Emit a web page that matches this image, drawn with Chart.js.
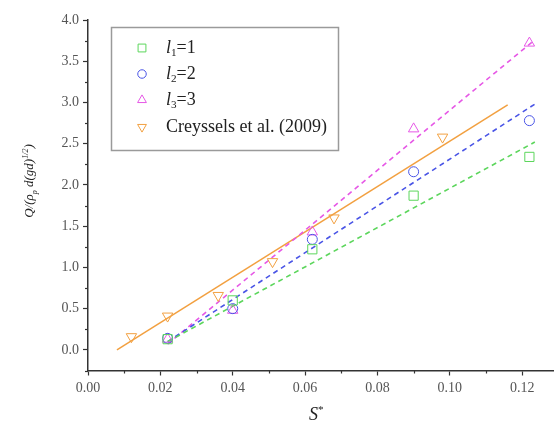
<!DOCTYPE html>
<html>
<head>
<meta charset="utf-8">
<script src="https://cdn.jsdelivr.net/npm/chart.js@4.4.1/dist/chart.umd.min.js"></script>
<style>
  html, body { margin: 0; padding: 0; background: #fff; overflow: hidden; }
  #wrap { width: 554px; height: 426px; }
  canvas { display: block; }
</style>
</head>
<body>
<div id="wrap"><canvas id="fluxChart"></canvas></div>
<script>
// Measured points, dimensionless flux vs S*
const sizeX = [0.022, 0.040, 0.062, 0.090, 0.122];
const l1Y = [0.13, 0.60, 1.22, 1.87, 2.34];
const l2Y = [0.14, 0.50, 1.34, 2.16, 2.78];
const l3Y = [0.13, 0.48, 1.43, 2.68, 3.72];
const creyX = [0.012, 0.022, 0.036, 0.051, 0.068, 0.098];
const creyY = [0.16, 0.41, 0.66, 1.07, 1.60, 2.58];

// Linear fits (end points)
const fitX = [0.022, 0.1235];
const fit1Y = [0.10, 2.52];
const fit2Y = [0.10, 2.98];
const fit3Y = [0.07, 3.76];
const creyFitX = [0.008, 0.116];
const creyFitY = [0.00, 2.97];

const xTicks = [0, 0.02, 0.04, 0.06, 0.08, 0.10, 0.12];
const yTicks = [0, 0.5, 1.0, 1.5, 2.0, 2.5, 3.0, 3.5, 4.0];

const GREEN = '#5cd65c';
const BLUE = '#4a55e6';
const MAGENTA = '#e658e6';
const ORANGE = '#f2a040';
const AXIS = '#333333';
const SERIF = '"Liberation Serif", "DejaVu Serif", serif';

const pts = (xs, ys) => xs.map((x, i) => ({ x: x, y: ys[i] }));

function markerSet(label, xs, ys, color, style, radius, rotation) {
    return {
        label: label,
        data: pts(xs, ys),
        showLine: false,
        borderColor: color,
        backgroundColor: 'rgba(0,0,0,0)',
        pointStyle: style,
        pointRotation: rotation || 0,
        pointRadius: radius,
        pointBorderWidth: 1,
        order: 1
    };
}

function fitSet(xs, ys, color, dashed) {
    return {
        label: '',
        data: pts(xs, ys),
        showLine: true,
        borderColor: color,
        borderWidth: dashed ? 1.6 : 1.5,
        borderDash: dashed ? [5, 4] : [],
        pointRadius: 0,
        fill: false,
        order: 2
    };
}

// Rich text: pieces may be italic, subscript or superscript
function drawRich(ctx, parts, x, y, size) {
    let cx = x;
    parts.forEach(p => {
        const s = p.sub || p.sup ? size * 0.62 : size;
        ctx.font = (p.italic ? 'italic ' : '') + s + 'px ' + SERIF;
        const dy = p.sub ? size * 0.28 : (p.sup ? -size * 0.38 : 0);
        ctx.fillText(p.t, cx, y + dy);
        cx += ctx.measureText(p.t).width;
    });
    return cx - x;
}

function richWidth(ctx, parts, size) {
    let w = 0;
    parts.forEach(p => {
        const s = p.sub || p.sup ? size * 0.62 : size;
        ctx.font = (p.italic ? 'italic ' : '') + s + 'px ' + SERIF;
        w += ctx.measureText(p.t).width;
    });
    return w;
}

const legendRows = [
    { ds: 0, parts: [{ t: 'l', italic: true }, { t: '1', sub: true }, { t: '=1' }] },
    { ds: 1, parts: [{ t: 'l', italic: true }, { t: '2', sub: true }, { t: '=2' }] },
    { ds: 2, parts: [{ t: 'l', italic: true }, { t: '3', sub: true }, { t: '=3' }] },
    { ds: 3, parts: [{ t: 'Creyssels et al. (2009)' }] }
];

// Minor ticks, axis titles and the framed legend
const decorations = {
    id: 'decorations',
    afterDraw(chart) {
        const ctx = chart.ctx;
        const xs = chart.scales.x, ys = chart.scales.y;
        const area = chart.chartArea;
        ctx.save();

        ctx.strokeStyle = AXIS;
        ctx.lineWidth = 1.2;
        for (let v = 0.01; v < xs.max; v += 0.02) {
            const px = Math.round(xs.getPixelForValue(v)) + 0.5;
            ctx.beginPath();
            ctx.moveTo(px, area.bottom);
            ctx.lineTo(px, area.bottom + 3);
            ctx.stroke();
        }
        for (let v = -0.25; v < ys.max; v += 0.5) {
            const py = Math.round(ys.getPixelForValue(v)) + 0.5;
            ctx.beginPath();
            ctx.moveTo(area.left, py);
            ctx.lineTo(area.left - 3, py);
            ctx.stroke();
        }

        // axis titles
        ctx.fillStyle = '#222';
        ctx.textBaseline = 'alphabetic';
        const xt = [{ t: 'S', italic: true }, { t: '*', sup: true }];
        drawRich(ctx, xt, 309, 420, 18);

        const yt = [
            { t: 'Q/(ρ', italic: true }, { t: 'p', italic: true, sub: true },
            { t: ' d(gd)', italic: true }, { t: '1/2', italic: true, sup: true },
            { t: ')', italic: true }
        ];
        const yw = richWidth(ctx, yt, 13);
        ctx.translate(33, 181);
        ctx.rotate(-Math.PI / 2);
        drawRich(ctx, yt, -yw / 2, 0, 13);
        ctx.setTransform(1, 0, 0, 1, 0, 0);

        // legend frame
        ctx.strokeStyle = '#9a9a9a';
        ctx.lineWidth = 1.5;
        ctx.strokeRect(111.5, 27.5, 227, 123);

        const rowY = [48, 74, 100, 127];
        legendRows.forEach((row, i) => {
            const ds = chart.data.datasets[row.ds];
            const cy = rowY[i];
            ctx.strokeStyle = ds.borderColor;
            ctx.fillStyle = 'rgba(0,0,0,0)';
            ctx.lineWidth = 1;
            Chart.helpers.drawPoint(ctx, {
                pointStyle: ds.pointStyle,
                radius: ds.pointRadius * 0.85,
                rotation: ds.pointRotation,
                borderWidth: 1
            }, 142, cy);
            ctx.fillStyle = '#222';
            ctx.textBaseline = 'middle';
            drawRich(ctx, row.parts, 166, cy, 18);
        });
        ctx.restore();
    }
};

const ctx = document.getElementById('fluxChart').getContext('2d');
const fluxChart = new Chart(ctx, {
    type: 'scatter',
    data: {
        datasets: [
            markerSet('l1=1', sizeX, l1Y, GREEN, 'rect', 6.5),
            markerSet('l2=2', sizeX, l2Y, BLUE, 'circle', 5),
            markerSet('l3=3', sizeX, l3Y, MAGENTA, 'triangle', 6),
            markerSet('Creyssels et al. (2009)', creyX, creyY, ORANGE, 'triangle', 6, 180),
            fitSet(fitX, fit1Y, GREEN, true),
            fitSet(fitX, fit2Y, BLUE, true),
            fitSet(fitX, fit3Y, MAGENTA, true),
            fitSet(creyFitX, creyFitY, ORANGE, false)
        ]
    },
    options: {
        responsive: true,
        maintainAspectRatio: false,
        animation: false,
        layout: { autoPadding: false, padding: { top: 20, right: 0, left: 0, bottom: 0 } },
        scales: {
            x: {
                type: 'linear',
                min: 0,
                max: 0.1288,
                afterBuildTicks: s => { s.ticks = xTicks.map(v => ({ value: v })); },
                afterFit: s => { s.height = 55.5; s.paddingRight = 0; },
                border: { display: true, color: AXIS, width: 1.5 },
                grid: { drawOnChartArea: false, tickLength: 5, tickColor: AXIS, tickWidth: 1.2 },
                ticks: {
                    color: '#555',
                    padding: 4,
                    maxRotation: 0,
                    font: { family: SERIF, size: 14 },
                    callback: v => v.toFixed(2)
                }
            },
            y: {
                type: 'linear',
                min: -0.25,
                max: 4.0,
                afterBuildTicks: s => { s.ticks = yTicks.map(v => ({ value: v })); },
                afterFit: s => { s.width = 88; },
                border: { display: true, color: AXIS, width: 1.5 },
                grid: { drawOnChartArea: false, tickLength: 5, tickColor: AXIS, tickWidth: 1.2 },
                ticks: {
                    color: '#555',
                    padding: 4,
                    font: { family: SERIF, size: 14 },
                    callback: v => v.toFixed(1)
                }
            }
        },
        plugins: {
            legend: { display: false },
            tooltip: { enabled: false }
        }
    },
    plugins: [decorations]
});
</script>
</body>
</html>
